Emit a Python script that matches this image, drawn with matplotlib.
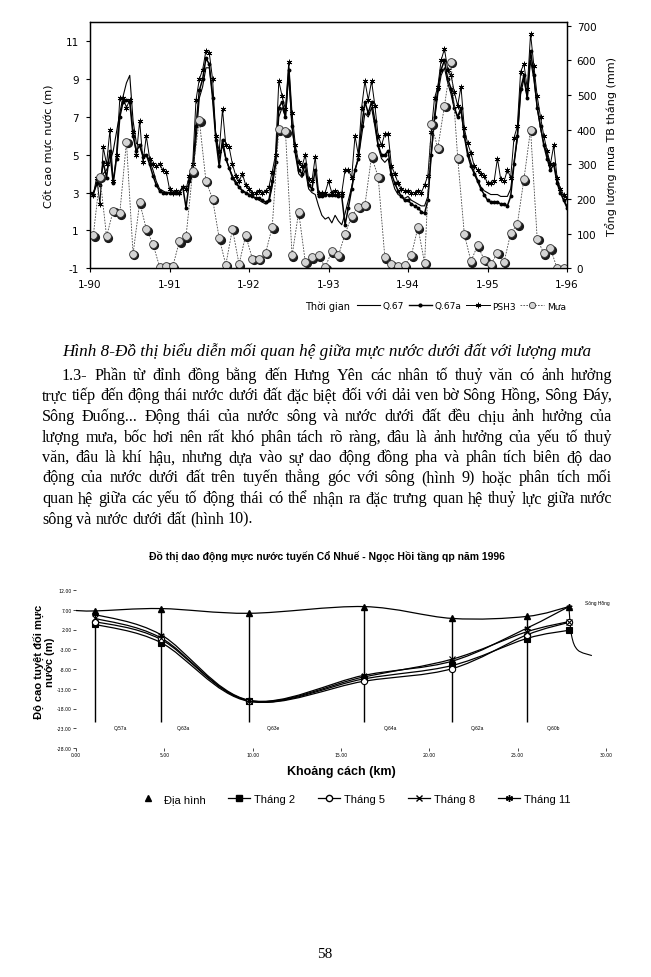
import numpy as np
import matplotlib
matplotlib.use('Agg')
import matplotlib.pyplot as plt
from matplotlib.path import Path
from matplotlib.patches import PathPatch
from matplotlib.lines import Line2D
from matplotlib import transforms

plt.rcParams['axes.unicode_minus'] = False

# ---------------- data: upper chart (semi-monthly water levels, monthly rain) ----------------
psh3 = [3.0, 2.9, 3.8, 2.4, 5.4, 4.5, 6.3, 3.6, 5.0, 8.0, 8.0, 7.5, 7.9, 6.2, 5.0, 6.8, 4.6, 6.0, 4.8, 4.5, 4.4, 4.5, 4.2, 4.1,
        3.2, 3.0, 3.1, 3.0, 3.3, 3.2, 3.9, 4.5, 7.9, 9.0, 9.5, 10.5, 10.4, 9.0, 6.0, 5.2, 7.4, 5.5, 5.4, 4.5, 3.9, 3.6, 4.0, 3.4,
        3.2, 3.0, 3.0, 3.1, 3.0, 3.1, 3.3, 4.1, 5.0, 8.9, 8.1, 7.4, 9.9, 7.2, 5.5, 4.6, 4.4, 5.0, 3.7, 3.6, 4.9, 3.0, 3.0, 3.0,
        3.6, 3.0, 3.1, 3.0, 3.0, 4.2, 4.2, 3.8, 6.0, 5.0, 7.5, 8.9, 7.9, 8.9, 7.6, 6.0, 5.5, 6.1, 6.1, 4.4, 4.0, 3.5, 3.2, 3.1,
        3.1, 3.0, 3.0, 3.1, 3.0, 3.4, 3.9, 6.2, 8.0, 8.6, 10.0, 10.6, 9.5, 9.2, 8.3, 7.6, 8.6, 6.4, 5.6, 5.1, 4.4, 4.2, 4.0, 3.9,
        3.5, 3.5, 3.6, 4.8, 3.7, 3.6, 4.2, 3.8, 5.9, 6.5, 9.4, 9.8, 8.5, 11.4, 9.7, 8.1, 7.0, 6.0, 5.2, 4.5, 5.5, 3.8, 3.2, 2.9,
        2.7]
q67a = [3.0, 2.9, 3.5, 3.4, 4.6, 3.8, 5.2, 3.5, 4.8, 7.0, 7.8, 7.9, 7.8, 6.0, 5.2, 5.5, 4.9, 5.0, 4.5, 3.9, 3.4, 3.1, 3.0, 3.0,
        3.0, 3.0, 3.0, 3.0, 3.3, 2.2, 3.6, 4.0, 6.5, 8.4, 9.0, 10.1, 9.8, 8.0, 5.8, 4.4, 5.8, 4.8, 4.3, 3.8, 3.5, 3.3, 3.1, 3.0,
        2.9, 2.8, 2.7, 2.7, 2.6, 2.5, 2.6, 3.6, 4.6, 7.5, 7.8, 7.0, 9.5, 6.5, 5.2, 4.2, 4.0, 4.5, 3.4, 3.2, 4.2, 2.8, 2.8, 2.9,
        2.9, 2.9, 2.9, 2.8, 2.8, 1.3, 2.2, 3.2, 4.2, 4.8, 6.5, 7.8, 7.2, 7.8, 6.8, 5.5, 5.0, 5.0, 5.2, 4.0, 3.5, 3.1, 2.8, 2.6,
        2.6, 2.4, 2.3, 2.2, 2.0, 1.9, 2.6, 5.0, 7.0, 8.5, 9.5, 10.0, 9.0, 8.5, 7.5, 7.0, 7.5, 6.0, 5.0, 4.4, 4.0, 3.6, 3.2, 2.9,
        2.6, 2.5, 2.5, 2.5, 2.4, 2.4, 2.3, 2.8, 4.5, 6.0, 8.5, 9.2, 8.0, 10.5, 9.2, 7.5, 6.5, 5.5, 4.8, 4.2, 4.5, 3.5, 3.0, 2.6,
        2.2]
q67 = [2.9, 3.0, 3.4, 3.5, 4.0, 4.2, 4.6, 5.2, 6.2, 7.2, 8.1, 8.8, 9.2, 6.8, 5.6, 5.5, 5.0, 5.0, 4.7, 4.2, 3.6, 3.2, 3.1, 3.0,
       3.0, 3.0, 2.9, 3.0, 3.3, 3.2, 3.5, 3.9, 5.8, 8.0, 8.6, 9.6, 9.6, 8.2, 6.0, 4.8, 5.5, 4.8, 4.3, 3.9, 3.6, 3.3, 3.1, 3.0,
       2.9, 2.8, 2.7, 2.6, 2.5, 2.4, 2.5, 3.3, 4.4, 7.0, 7.5, 7.0, 9.2, 6.5, 5.0, 4.0, 3.8, 4.2, 3.2, 3.0, 2.9, 2.3, 1.8, 1.6,
       1.7, 1.4, 1.8, 1.5, 1.3, 1.9, 2.6, 3.3, 4.2, 4.8, 6.0, 7.2, 7.0, 7.5, 6.5, 5.4, 4.8, 4.6, 4.8, 3.8, 3.2, 2.9, 2.8, 2.7,
       2.8, 2.6, 2.5, 2.4, 2.3, 2.3, 2.8, 5.0, 6.8, 8.2, 9.2, 9.6, 8.8, 8.2, 7.4, 7.0, 7.3, 6.0, 5.2, 4.6, 4.1, 3.7, 3.3, 3.1,
       3.0, 2.9, 2.9, 2.9, 2.8, 2.8, 2.8, 3.2, 4.6, 5.8, 8.2, 9.0, 8.0, 10.0, 9.0, 7.5, 6.4, 5.6, 5.0, 4.4, 4.6, 3.6, 3.1, 2.6,
       2.3]
rain = [95, 264, 92, 166, 159, 365, 41, 190, 113, 70, 5, 8,
        6, 78, 92, 280, 427, 252, 200, 87, 10, 114, 12, 95,
        28, 28, 44, 118, 401, 395, 37, 162, 18, 32, 37, 3,
        49, 37, 99, 150, 178, 183, 323, 263, 32, 12, 6, 9,
        37, 118, 15, 417, 347, 468, 596, 319, 99, 20, 66, 25,
        12, 44, 18, 101, 127, 257, 400, 85, 43, 58, 0, 0]
year_ticks = [1990, 1991, 1992, 1993, 1994, 1995, 1996]
year_labels = ['1-90', '1-91', '1-92', '1-93', '1-94', '1-95', '1-96']

# ---------------- data: lower chart (profile Cổ Nhuế - Ngọc Hồi) ----------------
topo_x = [0, 1.1, 4.8, 9.8, 16.3, 21.3, 25.5, 27.9]
topo_y = [6.8, 6.7, 7.3, 6.1, 7.8, 4.8, 5.3, 7.8]
river_x = [27.9, 28.05, 28.4, 29.2]
river_y = [7.8, 0.5, -3.2, -4.6]
well_x = [1.1, 4.8, 9.8, 16.3, 21.3, 25.5, 27.9]
well_top = [6.7, 7.3, 6.1, 7.8, 4.8, 5.3]
well_names = ['Q.57a', 'Q.63a', 'Q.63e', 'Q.64a', 'Q.62a', 'Q.60b']
name_x = [2.5, 6.1, 11.2, 17.8, 22.7, 27.0]
thang2 = [3.3, -1.3, -16.2, -10.5, -7.1, -0.3, 1.8]
thang5 = [4.0, -0.5, -16.1, -11.1, -7.9, 0.6, 3.8]
thang8 = [4.8, -0.1, -16.0, -10.0, -5.5, 1.4, 4.0]
thang11 = [5.8, 0.7, -15.9, -9.6, -6.0, 2.3, 7.8]

W, H = 651, 978
fig = plt.figure(figsize=(W / 100, H / 100), dpi=100)
SANS = ['DejaVu Sans']
ARIAL = ['Liberation Sans', 'DejaVu Sans']
SERIF = ['Liberation Serif', 'DejaVu Serif']


def px_axes(l, t, r, b):
    return fig.add_axes([l / W, 1 - b / H, (r - l) / W, (b - t) / H])


def fx(x):
    return x / W


def fy(y):
    return 1 - y / H


# ---------------- upper chart ----------------
ax = px_axes(90, 23.4, 567, 269.3)
t_half = 1990 + np.arange(len(psh3)) / 24
t_month = 1990 + (np.arange(len(rain)) + 0.5) / 12

ax.plot(t_half, q67, color='k', lw=0.8)
ax.plot(t_half, q67a, color='k', lw=1.1, marker='o', ms=1.8)
ax.plot(t_half, psh3, color='k', lw=0.7, marker=(6, 2, 0), ms=4, mew=0.6)
ax.set_xlim(1990, 1996)
ax.set_ylim(-1, 12)
ax.set_xticks(year_ticks)
ax.set_xticklabels(year_labels)
ax.set_yticks(range(-1, 12, 2))
ax.tick_params(labelsize=7.5, length=3, width=0.8, direction='out', pad=5)
ax.set_ylabel('Cốt cao mực nước (m)', fontsize=8, family=SANS, labelpad=9)

ax2 = ax.twinx()
ax2.plot(t_month, rain, color='#444444', lw=0.6, ls=(0, (2, 1.5)))
shadow = transforms.offset_copy(ax2.transData, fig=fig, x=1.4, y=-1.4, units='dots')
ax2.plot(t_month, rain, ls='none', marker='o', ms=5.6, mfc='#1a1a1a', mec='#1a1a1a', transform=shadow)
ax2.plot(t_month, rain, ls='none', marker='o', ms=5.6, mfc='#d4d4d4', mec='#333333', mew=0.6)
ax2.set_ylim(0, 709)
ax2.set_yticks(range(0, 701, 100))
ax2.tick_params(labelsize=7.5, length=3, width=0.8, direction='out', pad=4)
ax2.set_ylabel('Tổng lượng mưa TB tháng (mm)', fontsize=8, family=SANS, labelpad=6)
for a in (ax, ax2):
    for s in a.spines.values():
        s.set_linewidth(0.9)

top_handles = [
    Line2D([], [], color='k', lw=0.8),
    Line2D([], [], color='k', lw=1.0, marker='o', ms=2),
    Line2D([], [], color='k', lw=0.7, marker=(6, 2, 0), ms=4, mew=0.6),
    Line2D([], [], color='#444444', lw=0.6, ls=(0, (2, 1.5)), marker='o', ms=4.5,
           mfc='#d4d4d4', mec='#333333', mew=0.6),
]
fig.legend(top_handles, ['Q.67', 'Q.67a', 'PSH3', 'Mưa'], loc='center left',
           bbox_to_anchor=(fx(352), fy(307)), ncol=4, frameon=False, fontsize=6.5,
           handlelength=2.6, columnspacing=0.5, handletextpad=0.3, borderpad=0)
fig.text(fx(350), fy(307), 'Thời gian', ha='right', va='center', fontsize=7, family=SANS)

# ---------------- caption and justified paragraph ----------------
renderer = fig.canvas.get_renderer()


def text_width(s, fs, **kw):
    t = fig.text(0, 0, s, fontsize=fs, **kw)
    w = t.get_window_extent(renderer).width
    t.remove()
    return w


def justified(lines, x_left, x_right, y0, dy, indent, **kw):
    base = 12
    fits = []
    for i, ln in enumerate(lines[:-1]):
        avail = x_right - x_left - (indent if i == 0 else 0)
        fits.append(avail / text_width(ln, base, **kw))
    fs = base * min(fits) * 0.995
    space = text_width('a a', fs, **kw) - text_width('aa', fs, **kw)
    for i, ln in enumerate(lines):
        words = ln.split(' ')
        x0 = x_left + (indent if i == 0 else 0)
        widths = [text_width(w, fs, **kw) for w in words]
        if i < len(lines) - 1 and len(words) > 1:
            gap = (x_right - x0 - sum(widths)) / (len(words) - 1)
        else:
            gap = space
        x = x0
        for w, wd in zip(words, widths):
            fig.text(fx(x), fy(y0 + i * dy), w, fontsize=fs, va='baseline', **kw)
            x += wd + gap


caption = 'Hình 8-Đồ thị biểu diễn mối quan hệ giữa mực nước dưới đất với lượng mưa'
cap_fs = 12 * 528 / text_width(caption, 12, family=SERIF, style='italic')
fig.text(fx(62), fy(356), caption, fontsize=cap_fs, family=SERIF, style='italic', va='baseline')

paragraph = [
    '1.3- Phần từ đỉnh đồng bằng đến Hưng Yên các nhân tố thuỷ văn có ảnh hưởng',
    'trực tiếp đến động thái nước dưới đất đặc biệt đối với dải ven bờ Sông Hồng, Sông Đáy,',
    'Sông Đuống... Động thái của nước sông và nước dưới đất đều chịu ảnh hưởng của',
    'lượng mưa, bốc hơi nên rất khó phân tách rõ ràng, đâu là ảnh hưởng của yếu tố thuỷ',
    'văn, đâu là khí hậu, nhưng dựa vào sự dao động đồng pha và phân tích biên độ dao',
    'động của nước dưới đất trên tuyến thẳng góc với sông (hình 9) hoặc phân tích mối',
    'quan hệ giữa các yếu tố động thái có thể nhận ra đặc trưng quan hệ thuỷ lực giữa nước',
    'sông và nước dưới đất (hình 10).',
]
justified(paragraph, 42, 612, 380, 20.5, 20, family=SERIF)

# ---------------- lower chart ----------------
fig.text(fx(327), fy(556), 'Đồ thị dao động mực nước tuyến Cổ Nhuế - Ngọc Hồi tầng qp năm 1996',
         ha='center', va='center', fontsize=7.5, weight='bold', family=ARIAL)

bx = px_axes(76, 591, 606, 749)
bx.set_xlim(0, 30)
bx.set_ylim(-28, 12)
for s in bx.spines.values():
    s.set_visible(False)


def smooth_line(x, y, **kw):
    pts = np.column_stack([x, y]).astype(float)
    verts = [pts[0]]
    codes = [Path.MOVETO]
    n = len(pts)
    for i in range(n - 1):
        p0 = pts[i - 1] if i > 0 else pts[i]
        p1, p2 = pts[i], pts[i + 1]
        p3 = pts[i + 2] if i + 2 < n else pts[i + 1]
        verts += [p1 + (p2 - p0) / 6, p2 - (p3 - p1) / 6, p2]
        codes += [Path.CURVE4] * 3
    bx.add_patch(PathPatch(Path(verts, codes), fill=False, **kw))


smooth_line(topo_x, topo_y, lw=0.9, edgecolor='k')
smooth_line(river_x, river_y, lw=0.8, edgecolor='k')
bx.vlines(well_x[:-1], -21.3, well_top, color='k', lw=1.0)
bx.plot(well_x, topo_y[1:], ls='none', marker='^', ms=5, color='k')

series = [(thang2, 's', 'k'), (thang5, 'o', 'white'), (thang8, 'x', 'k'), (thang11, (6, 2, 0), 'k')]
for vals, mk, fc in series:
    smooth_line(well_x, vals, lw=0.9, edgecolor='k')
    bx.plot(well_x, vals, ls='none', marker=mk, ms=4.5, mfc=fc, mec='k', mew=0.8)

for nm, x in zip(well_names, name_x):
    bx.text(x, -22.7, nm, fontsize=3.5, ha='center', va='center', family=ARIAL)
bx.text(28.8, 8.8, 'Sông Hồng', fontsize=3.5, ha='left', va='center', family=ARIAL)

bx.set_yticks(np.arange(-28, 13, 5))
bx.set_yticklabels([f'{v:.2f}' for v in np.arange(-28, 13, 5)])
bx.set_xticks(np.arange(0, 31, 5))
bx.set_xticklabels([f'{v:.2f}' for v in np.arange(0, 31, 5)])
bx.tick_params(labelsize=3.3, length=2, width=0.5, pad=1)

fig.text(fx(341), fy(772), 'Khoảng cách (km)', ha='center', va='center', fontsize=9,
         weight='bold', family=ARIAL)
fig.text(fx(44), fy(662), 'Độ cao tuyệt đối mực\nnước (m)', rotation=90, ha='center', va='center',
         fontsize=8, weight='bold', family=ARIAL, linespacing=1.0, multialignment='center')

bottom_handles = [
    Line2D([], [], ls='none', marker='^', ms=5, color='k'),
    Line2D([], [], color='k', lw=0.9, marker='s', ms=4),
    Line2D([], [], color='k', lw=0.9, marker='o', ms=4.5, mfc='white'),
    Line2D([], [], color='k', lw=0.9, marker='x', ms=4.5),
    Line2D([], [], color='k', lw=0.9, marker=(6, 2, 0), ms=5),
]
fig.legend(bottom_handles, ['Địa hình', 'Tháng 2', 'Tháng 5', 'Tháng 8', 'Tháng 11'], loc='center',
           bbox_to_anchor=(fx(354), fy(800)), ncol=5, frameon=False,
           handlelength=2.0, columnspacing=2.0, handletextpad=0.4, borderpad=0,
           prop={'family': ARIAL, 'size': 8})

fig.text(fx(325), fy(955), '58', ha='center', va='center', fontsize=11, family=SERIF)

fig.savefig('out.png', dpi=100)
